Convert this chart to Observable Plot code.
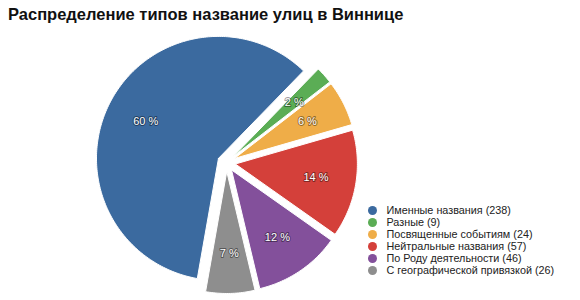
<!DOCTYPE html>
<html><head><meta charset="utf-8">
<script src="https://cdn.jsdelivr.net/npm/d3@7"></script>
<script src="https://cdn.jsdelivr.net/npm/@observablehq/plot@0.6"></script>
<style>
body{margin:0;background:#fff;font-family:"Liberation Sans",Arial,Helvetica,sans-serif;}
#title{position:absolute;left:8px;top:5px;font-size:16.5px;font-weight:bold;color:#111;white-space:nowrap;}
#chart{position:absolute;left:0;top:30px;}
</style></head><body>
<div id="title">Распределение типов название улиц в Виннице</div>
<div id="chart"></div>
<script>
const categories = ["Именные названия", "Разные", "Посвященные событиям", "Нейтральные названия", "По Роду деятельности", "С географической привязкой"];
const counts = [238, 9, 24, 57, 46, 26];
const colors = ["#3b6a9f", "#5bad55", "#efad48", "#d4403a", "#83509b", "#8e8e8e"];

const W = 580, H = 270;
const cx = 226, cy = 132, R = 122, explode = 9;
const start = -170 * Math.PI / 180;
const total = d3.sum(counts);

const arcs = d3.pie().sort(null).startAngle(start).endAngle(start + 2 * Math.PI)(counts);

const polys = [];
const labels = [];
arcs.forEach((a, i) => {
  const mid = (a.startAngle + a.endAngle) / 2;
  const ox = cx + explode * Math.sin(mid), oy = cy - explode * Math.cos(mid);
  const key = categories[i];
  polys.push({key, x: ox, y: oy});
  const n = Math.max(4, Math.ceil((a.endAngle - a.startAngle) / (Math.PI / 180)));
  for (let k = 0; k <= n; k++) {
    const t = a.startAngle + (a.endAngle - a.startAngle) * k / n;
    polys.push({key, x: ox + R * Math.sin(t), y: oy - R * Math.cos(t)});
  }
  polys.push({key, x: ox, y: oy});
  labels.push({key, x: ox + 0.67 * R * Math.sin(mid), y: oy - 0.67 * R * Math.cos(mid),
    text: Math.round(100 * counts[i] / total) + " %"});
});

const legend = categories.map((c, i) => ({key: c, label: `${c} (${counts[i]})`, x: 372, y: 180 + 12 * i}));

const chart = Plot.plot({
  width: W, height: H,
  margin: 0,
  x: {domain: [0, W], range: [0, W], axis: null},
  y: {domain: [0, H], range: [0, H], axis: null},
  color: {domain: categories, range: colors},
  style: {fontFamily: '"Liberation Sans", Arial, Helvetica, sans-serif', background: "#fff"},
  marks: [
    Plot.line(polys, {x: "x", y: "y", z: "key", fill: "key", stroke: "white", strokeWidth: 1, curve: "linear"}),
    Plot.text(labels, {x: "x", y: "y", text: "text", fill: "white", stroke: "rgba(0,0,0,0.4)", strokeWidth: 2, fontSize: 11}),
    Plot.dot(legend, {x: "x", y: "y", fill: "key", r: 4.5}),
    Plot.text(legend, {x: "x", y: "y", text: "label", dx: 14, textAnchor: "start", fontSize: 10.8, fill: "#222"})
  ]
});
document.getElementById("chart").appendChild(chart);
</script>
</body></html>
